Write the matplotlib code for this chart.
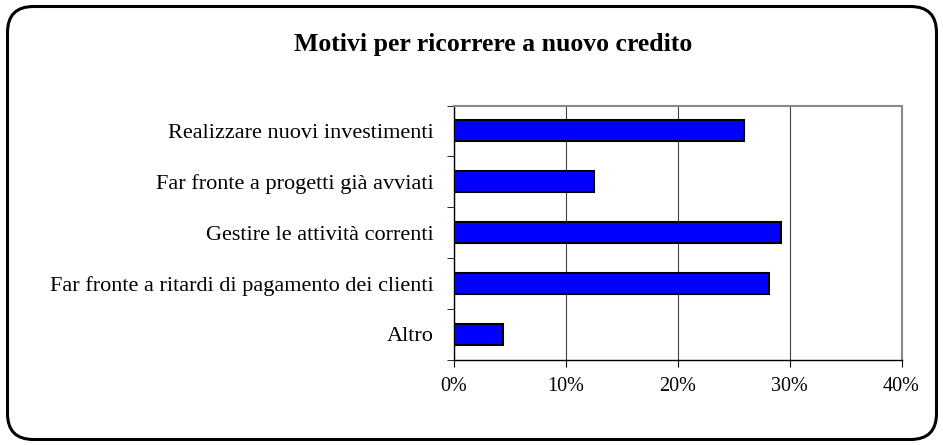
import matplotlib.pyplot as plt
from matplotlib.patches import FancyBboxPatch
from matplotlib.ticker import FixedLocator, PercentFormatter

categories = ['Realizzare nuovi investimenti',
              'Far fronte a progetti già avviati',
              'Gestire le attività correnti',
              'Far fronte a ritardi di pagamento dei clienti',
              'Altro']
values = [25.9, 12.5, 29.2, 28.15, 4.4]
xticks = [0, 10, 20, 30, 40]

plt.rcParams['font.family'] = ['Liberation Serif', 'DejaVu Serif']

fig = plt.figure(figsize=(9.43, 4.45), dpi=100)
W, H = 943, 445

# background axes in pixel units for the rounded frame
bg = fig.add_axes([0, 0, 1, 1])
bg.set_xlim(0, W)
bg.set_ylim(H, 0)
bg.axis('off')
bg.add_patch(FancyBboxPatch((7.5, 6.5), 929, 433,
                            boxstyle='round,pad=0,rounding_size=26',
                            fill=False, edgecolor='black', linewidth=2.2))

ax = fig.add_axes([453.5 / W, 1 - 359.5 / H, 448 / W, 254 / H])

pos = list(range(len(categories)))
ax.barh(pos, values, height=0.41, color='#0000ff', edgecolor='black',
        linewidth=1.5, zorder=3)

ax.set_ylim(len(categories) - 0.5, -0.5)
ax.set_xlim(0, 40)
ax.xaxis.set_major_locator(FixedLocator(xticks))
ax.xaxis.set_major_formatter(PercentFormatter(decimals=0))
ax.grid(axis='x', color='#444444', linewidth=0.8, zorder=0)

ax.set_yticks(pos)
ax.set_yticklabels(categories)
ax.yaxis.set_minor_locator(FixedLocator([p - 0.5 for p in pos] + [len(pos) - 0.5]))
ax.tick_params(axis='y', which='major', length=0, pad=14, labelsize=16)
ax.tick_params(axis='y', which='minor', length=4.7, direction='out')
ax.tick_params(axis='x', length=4.7, direction='out', pad=8, labelsize=14.5)

for s in ['top', 'right']:
    ax.spines[s].set_color('#888888')
    ax.spines[s].set_linewidth(1.5)
for s in ['left', 'bottom']:
    ax.spines[s].set_color('black')
    ax.spines[s].set_linewidth(1.0)

fig.text(493 / W, 1 - 45 / H, 'Motivi per ricorrere a nuovo credito',
         ha='center', va='center', fontsize=18.5, fontweight='bold')

fig.savefig('out.png', dpi=100)
